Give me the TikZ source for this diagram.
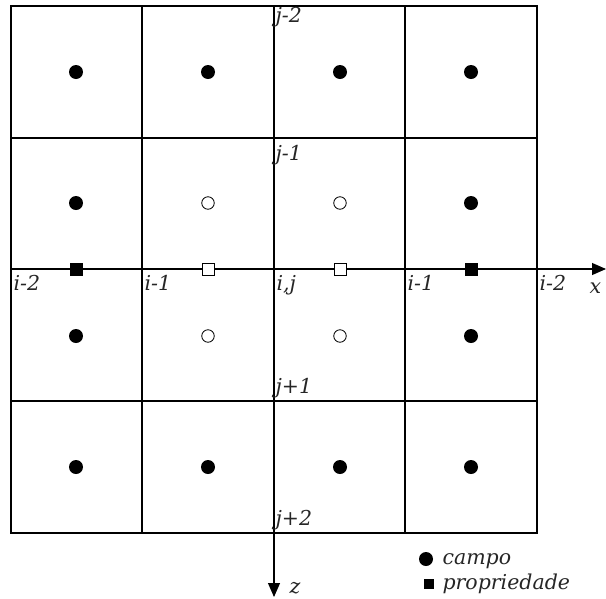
\documentclass[tikz,border=0pt]{standalone}
\usepackage{fontspec}
\usepackage{tikz}
\usetikzlibrary{arrows.meta}
\newfontfamily\lblfont{DejaVu Serif}

\begin{document}
\begin{tikzpicture}[
  x=1pt, y=-1pt, line width=1.1pt,
  fdot/.style={circle,fill=black,inner sep=0pt,minimum size=14pt},
  odot/.style={circle,draw,fill=white,inner sep=0pt,minimum size=12.5pt,line width=0.8pt},
  fsq/.style={rectangle,fill=black,inner sep=0pt,minimum size=13pt},
  osq/.style={rectangle,draw,fill=white,inner sep=0pt,minimum size=12pt,line width=0.9pt},
  lbl/.style={inner sep=0pt,text=black!85,font=\lblfont\fontsize{20.5}{22}\selectfont\itshape},
  ar/.style={-{Triangle[length=14pt,width=12pt]}}
]
\useasboundingbox (0,0) rectangle (606,598);
% grid
\draw (11,6) rectangle (537,533);
\draw (142,6) -- (142,533) (405,6) -- (405,533);
\draw (11,138) -- (537,138) (11,401) -- (537,401);
% axes
\coordinate (xo) at (11,269);
\coordinate (xe) at (606,269);
\coordinate (zo) at (274,6);
\coordinate (ze) at (274,597);
\draw[ar] (xo) -- (xe);
\draw[ar] (zo) -- (ze);
% field points
\node[fdot] (d11) at (76,72) {};
\node[fdot] (d12) at (208,72) {};
\node[fdot] (d13) at (340,72) {};
\node[fdot] (d14) at (471,72) {};
\node[fdot] (d21) at (76,203) {};
\node[odot] (d22) at (208,203) {};
\node[odot] (d23) at (340,203) {};
\node[fdot] (d24) at (471,203) {};
\node[fdot] (d31) at (76,336) {};
\node[odot] (d32) at (208,336) {};
\node[odot] (d33) at (340,336) {};
\node[fdot] (d34) at (471,336) {};
\node[fdot] (d41) at (76,467) {};
\node[fdot] (d42) at (208,467) {};
\node[fdot] (d43) at (340,467) {};
\node[fdot] (d44) at (471,467) {};
% property points
\node[fsq] (s1) at (76,269) {};
\node[osq] (s2) at (208,269) {};
\node[osq] (s3) at (340,269) {};
\node[fsq] (s4) at (471,269) {};
% labels
\node[lbl,anchor=base west] (li1) at (13,290) {i-2};
\node[lbl,anchor=base west] (li2) at (144,290) {i-1};
\node[lbl,anchor=base west] (li3) at (276,290) {i,j};
\node[lbl,anchor=base west] (li4) at (407,290) {i-1};
\node[lbl,anchor=base west] (li5) at (539,290) {i-2};
\node[lbl,anchor=base west] (lx) at (589,293) {x};
\node[lbl,anchor=base west] (lj1) at (275,22) {j-2};
\node[lbl,anchor=base west] (lj2) at (275,160) {j-1};
\node[lbl,anchor=base west] (lj3) at (275,393) {j+1};
\node[lbl,anchor=base west] (lj4) at (275,525) {j+2};
\node[lbl,anchor=base west] (lz) at (289,593) {z};
% legend
\node[fdot] (kd) at (426,559) {};
\node[lbl,anchor=base west] (kdt) at (442,564) {campo};
\node[fsq,minimum size=10.5pt] (ks) at (429,584) {};
\node[lbl,anchor=base west] (kst) at (442,589) {propriedade};
\end{tikzpicture}
\end{document}
